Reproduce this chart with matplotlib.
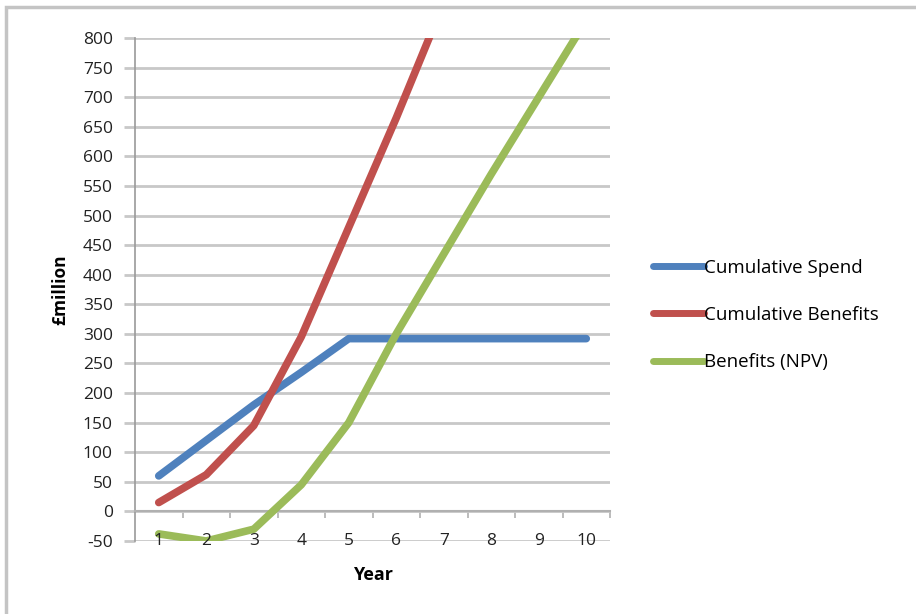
import matplotlib
matplotlib.use("Agg")
import matplotlib.pyplot as plt
from matplotlib.patches import Rectangle

plt.rcParams['font.family'] = ['Open Sans', 'DejaVu Sans']

# data
years = [1, 2, 3, 4, 5, 6, 7, 8, 9, 10]
cum_spend = [60, 120, 180, 235, 292, 292, 292, 292, 292, 292]
cum_benefits = [15, 62, 145, 295, 480, 665, 860, 1050, 1240, 1430]
benefits_npv = [-38, -50, -30, 45, 150, 300, 435, 570, 700, 830]
y_ticks = list(range(-50, 801, 50))

fs = 12.5

fig = plt.figure(figsize=(9.16, 6.14), dpi=100)
ax = fig.add_axes([135 / 916, 1 - 541 / 614, 475 / 916, 503 / 614])

# chart-area border (cropped screenshot: only top and left visible)
fig.patches.append(Rectangle((6 / 916, -0.1), 1.2, 1 - 7 / 614 + 0.1,
                             transform=fig.transFigure, fill=False,
                             edgecolor='#c4c4c4', linewidth=2.5))

ax.plot(years, cum_spend, color='#4F81BD', lw=5.5, label='Cumulative Spend',
        solid_capstyle='round', zorder=3)
ax.plot(years, cum_benefits, color='#C0504D', lw=5.5, label='Cumulative Benefits',
        solid_capstyle='round', zorder=3)
ax.plot(years, benefits_npv, color='#9BBB59', lw=5.5, label='Benefits (NPV)',
        solid_capstyle='round', zorder=3)

ax.set_xlim(0.5, 10.5)
ax.set_ylim(-50, 800)
ax.set_yticks(y_ticks)
ax.set_yticklabels([str(v) for v in y_ticks], fontsize=fs, color='#222222')
ax.grid(axis='y', color='#c8c8c8', lw=2)
ax.set_axisbelow(True)
ax.tick_params(axis='y', length=8, width=2, color='#c8c8c8', pad=8)

for s in ['top', 'right']:
    ax.spines[s].set_visible(False)
ax.spines['left'].set_color('#9a9a9a')
ax.spines['left'].set_linewidth(1.2)
ax.spines['bottom'].set_position(('data', 0))
ax.spines['bottom'].set_color('#b0b0b0')
ax.spines['bottom'].set_linewidth(1.5)

# category ticks sit between the years, labels sit at the bottom of the plot
ax.set_xticks([y + 0.5 for y in years])
ax.set_xticklabels([])
ax.tick_params(axis='x', length=5, width=1.2, color='#b0b0b0', direction='out')
for y in years:
    ax.text(y, -50, str(y), ha='center', va='center', fontsize=fs, color='#222222')

ax.set_ylabel('£million', fontsize=fs, fontweight='bold', labelpad=10)
fig.text(373 / 916, 1 - 575 / 614, 'Year', ha='center', va='center',
         fontsize=fs + 0.5, fontweight='bold')

leg = fig.legend(loc='center left', bbox_to_anchor=(636 / 916, 1 - 315 / 614),
                 frameon=False, fontsize=13.5, handlelength=2.7, handletextpad=0.05,
                 labelspacing=1.55)
for line in leg.get_lines():
    line.set_linewidth(5)

fig.savefig('out.png', dpi=100)
